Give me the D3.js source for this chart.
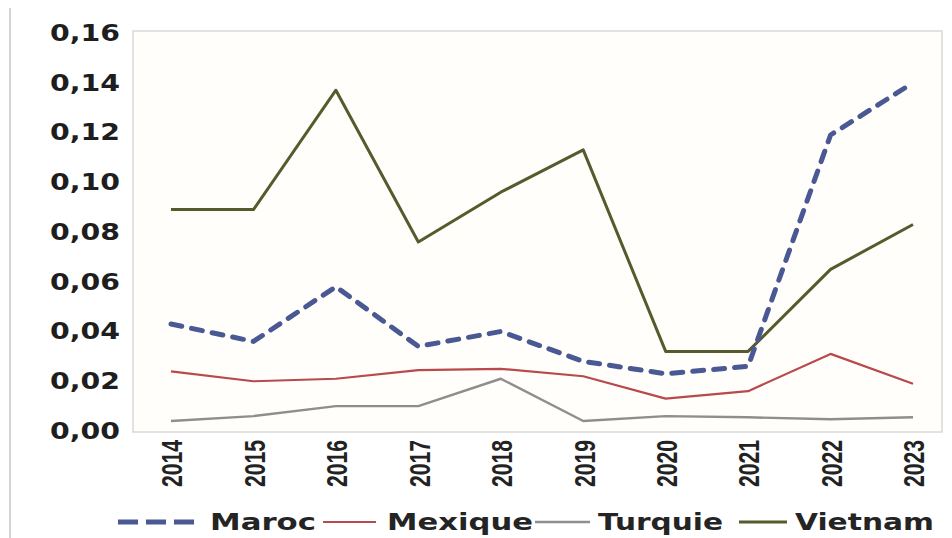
<!DOCTYPE html>
<html>
<head>
<meta charset="utf-8">
<script src="https://cdn.jsdelivr.net/npm/d3@7"></script>
<style>
  html, body { margin: 0; padding: 0; background: #ffffff; }
  svg { display: block; }
</style>
</head>
<body>
<svg id="chart" width="952" height="538"></svg>
<script>
// ---- data ----
const years = ["2014","2015","2016","2017","2018","2019","2020","2021","2022","2023"];
const maroc   = [0.043, 0.036, 0.058, 0.034, 0.040, 0.028, 0.023, 0.026, 0.119, 0.140];
const mexique = [0.024, 0.020, 0.021, 0.0245, 0.025, 0.022, 0.013, 0.016, 0.031, 0.019];
const turquie = [0.004, 0.006, 0.010, 0.010, 0.021, 0.004, 0.006, 0.0055, 0.0047, 0.0055];
const vietnam = [0.089, 0.089, 0.137, 0.076, 0.096, 0.113, 0.032, 0.032, 0.065, 0.083];
const seriesNames = ["Maroc", "Mexique", "Turquie", "Vietnam"];
const yTicks = [0, 0.02, 0.04, 0.06, 0.08, 0.10, 0.12, 0.14, 0.16];

// ---- styles ----
const colors = { Maroc: "#4a5893", Mexique: "#b8494c", Turquie: "#8e8e8e", Vietnam: "#575a2c" };
const widths = { Maroc: 5, Mexique: 2.2, Turquie: 2.4, Vietnam: 3 };

const svg = d3.select("#chart");
const plot = { left: 133, right: 942, top: 31, bottom: 432 };

// page left rule
svg.append("line").attr("x1", 10).attr("x2", 10).attr("y1", 8).attr("y2", 538)
  .attr("stroke", "#d4d4d4").attr("stroke-width", 2);

// plot background + frame
svg.append("rect")
  .attr("x", plot.left).attr("y", plot.top)
  .attr("width", plot.right - plot.left).attr("height", plot.bottom - plot.top)
  .attr("fill", "#fffefb").attr("stroke", "#d9d9d9").attr("stroke-width", 1.5);

const x = d3.scalePoint().domain(years).range([171, 913]);
const y = d3.scaleLinear().domain([0, 0.16]).range([431, 33]);

// y axis
const yAxis = svg.append("g").attr("transform", `translate(${plot.left},0)`)
  .call(d3.axisLeft(y).tickValues(yTicks).tickSize(0).tickPadding(13)
    .tickFormat(d => d3.format(".2f")(d).replace(".", ",")));
yAxis.select(".domain").remove();
yAxis.selectAll("text")
  .attr("font-family", "'DejaVu Sans', Verdana, sans-serif")
  .attr("font-weight", "bold").attr("font-size", 23).attr("fill", "#1e1e1e")
  .attr("textLength", 70).attr("lengthAdjust", "spacingAndGlyphs");

// x axis
const xAxis = svg.append("g").attr("transform", `translate(0,${plot.bottom})`)
  .call(d3.axisBottom(x).tickSize(0));
xAxis.select(".domain").remove();
xAxis.selectAll("text")
  .attr("transform", "rotate(-90)")
  .attr("x", -8).attr("y", 0).attr("dy", "0.36em")
  .attr("text-anchor", "end")
  .attr("font-family", "'Liberation Sans', Arial, sans-serif")
  .attr("font-weight", "bold").attr("font-size", 30).attr("fill", "#222")
  .attr("textLength", 47).attr("lengthAdjust", "spacingAndGlyphs");

// lines
const data = { Maroc: maroc, Mexique: mexique, Turquie: turquie, Vietnam: vietnam };
const line = d3.line().x((d, i) => x(years[i])).y(d => y(d));
["Mexique", "Turquie", "Vietnam", "Maroc"].forEach(name => {
  const p = svg.append("path").datum(data[name])
    .attr("d", line).attr("fill", "none")
    .attr("stroke", colors[name]).attr("stroke-width", widths[name])
    .attr("stroke-linejoin", "round");
  if (name === "Maroc") p.attr("stroke-dasharray", "11,10").attr("stroke-linecap", "round");
});

// legend
const legendLayout = {
  Maroc:   { x1: 118, x2: 196, tx: 210, tw: 106 },
  Mexique: { x1: 323, x2: 376, tx: 387, tw: 146 },
  Turquie: { x1: 535, x2: 590, tx: 598, tw: 125 },
  Vietnam: { x1: 739, x2: 787, tx: 795, tw: 139 }
};
const ly = 522;
const leg = svg.append("g");
seriesNames.forEach(name => {
  const L = legendLayout[name];
  const ln = leg.append("line").attr("x1", L.x1).attr("x2", L.x2).attr("y1", ly).attr("y2", ly)
    .attr("stroke", colors[name]).attr("stroke-width", name === "Maroc" ? 5 : widths[name]);
  if (name === "Maroc") ln.attr("stroke-dasharray", "20,8");
  leg.append("text").attr("x", L.tx).attr("y", ly).attr("dy", "0.36em")
    .attr("font-family", "'DejaVu Sans', Verdana, sans-serif")
    .attr("font-weight", "bold").attr("font-size", 23).attr("fill", "#242424")
    .attr("textLength", L.tw).attr("lengthAdjust", "spacingAndGlyphs")
    .text(name);
});
</script>
</body>
</html>
